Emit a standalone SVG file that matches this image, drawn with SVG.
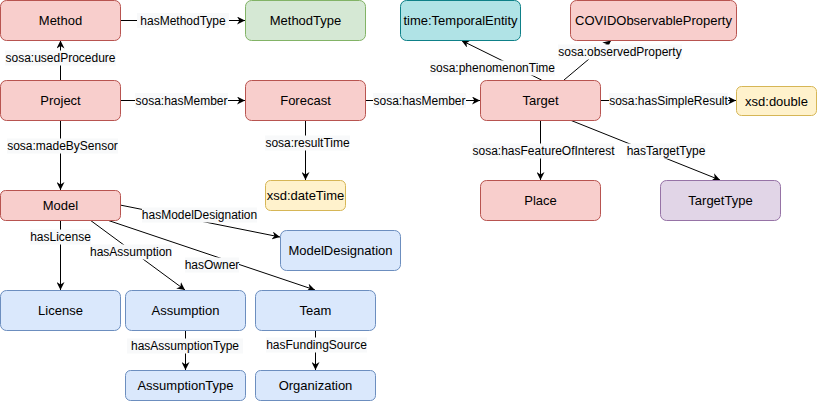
<svg xmlns="http://www.w3.org/2000/svg" width="817" height="401" viewBox="0 0 817 401">
<style>
.n rect{stroke-width:1}
.red rect{fill:#f8cecc;stroke:#b85450}
.green rect{fill:#d5e8d4;stroke:#82b366}
.teal rect{fill:#b0e3e6;stroke:#0e8088}
.yellow rect{fill:#fff2cc;stroke:#d6b656}
.blue rect{fill:#dae8fc;stroke:#6c8ebf}
.purple rect{fill:#e1d5e7;stroke:#9673a6}
.n text{font-family:"Liberation Sans",Arial,sans-serif;font-size:13px;fill:#000;text-anchor:middle}
#edges line{stroke:#000;stroke-width:1;fill:none;marker-end:url(#arr)}
#edges rect{fill:#f8f9fa;stroke:none}
#edges text{font-family:"Liberation Sans",Arial,sans-serif;font-size:12px;fill:#000;text-anchor:middle}
</style>
<defs>
<marker id="arr" viewBox="0 0 10 10" refX="10" refY="5" markerWidth="8" markerHeight="8" markerUnits="userSpaceOnUse" orient="auto">
<path d="M0,0 L10,5 L0,10 L3,5 z" fill="#000"/>
</marker>
</defs>
<rect width="817" height="401" fill="#fff"/>
<g id="edges">
<line x1="120" y1="20.5" x2="245" y2="20.5"/>
<line x1="60.5" y1="80" x2="60.5" y2="40.5"/>
<line x1="120" y1="100.5" x2="245" y2="100.5"/>
<line x1="365" y1="100.5" x2="480" y2="100.5"/>
<line x1="600" y1="100.5" x2="736" y2="100.5"/>
<line x1="60.5" y1="120" x2="60.5" y2="190"/>
<line x1="305.5" y1="120" x2="305.5" y2="180"/>
<line x1="541.5" y1="80" x2="461.5" y2="40.5"/>
<line x1="564" y1="80" x2="611" y2="40.5"/>
<line x1="540.5" y1="120" x2="540.5" y2="180"/>
<line x1="570" y1="120" x2="720" y2="180"/>
<line x1="120" y1="205" x2="280" y2="237"/>
<line x1="60.5" y1="220" x2="60.5" y2="290"/>
<line x1="90" y1="220" x2="185" y2="290"/>
<line x1="107" y1="220" x2="315" y2="290"/>
<line x1="185.5" y1="330" x2="185.5" y2="370"/>
<line x1="315.5" y1="330" x2="315.5" y2="370"/>
<g>
<rect x="137" y="13" width="92" height="15"/><text x="183" y="24.5">hasMethodType</text>
<rect x="5" y="50.5" width="111" height="15"/><text x="60.5" y="62">sosa:usedProcedure</text>
<rect x="135" y="93" width="93" height="15"/><text x="181.5" y="104.5">sosa:hasMember</text>
<rect x="373" y="93" width="93" height="15"/><text x="419.5" y="104.5">sosa:hasMember</text>
<rect x="609" y="93" width="119" height="15"/><text x="668.5" y="104.5">sosa:hasSimpleResult</text>
<rect x="7" y="138.5" width="111" height="15"/><text x="62.5" y="150">sosa:madeBySensor</text>
<rect x="265" y="135.5" width="85" height="15"/><text x="307.5" y="147">sosa:resultTime</text>
<rect x="430" y="60.5" width="125" height="15"/><text x="492.5" y="72">sosa:phenomenonTime</text>
<rect x="558" y="44.5" width="124" height="15"/><text x="620" y="56">sosa:observedProperty</text>
<rect x="472.5" y="143.5" width="142" height="15"/><text x="543.5" y="155">sosa:hasFeatureOfInterest</text>
<rect x="626.5" y="143.5" width="79" height="15"/><text x="666" y="155">hasTargetType</text>
<rect x="142" y="207.5" width="115" height="15"/><text x="199.5" y="219">hasModelDesignation</text>
<rect x="30" y="229.5" width="61" height="15"/><text x="60.5" y="241">hasLicense</text>
<rect x="90" y="244.5" width="82" height="15"/><text x="131" y="256">hasAssumption</text>
<rect x="185" y="257.5" width="54" height="15"/><text x="212" y="269">hasOwner</text>
<rect x="127" y="338.5" width="116" height="15"/><text x="185" y="350">hasAssumptionType</text>
<rect x="266" y="337.5" width="101" height="15"/><text x="316.5" y="349">hasFundingSource</text>
</g>
</g>
<g id="method" class="n red"><rect x="0.5" y="0.5" width="120" height="40" rx="6"/><text x="60.5" y="25">Method</text></g>
<g id="methodtype" class="n green"><rect x="245.5" y="0.5" width="120" height="40" rx="6"/><text x="305.5" y="25">MethodType</text></g>
<g id="temporalentity" class="n teal"><rect x="400.5" y="0.5" width="120" height="40" rx="6"/><text x="460.5" y="25">time:TemporalEntity</text></g>
<g id="covidobservableproperty" class="n red"><rect x="570.5" y="0.5" width="166" height="40" rx="6"/><text x="653.5" y="25">COVIDObservableProperty</text></g>
<g id="project" class="n red"><rect x="0.5" y="80.5" width="120" height="40" rx="6"/><text x="60.5" y="105">Project</text></g>
<g id="forecast" class="n red"><rect x="245.5" y="80.5" width="120" height="40" rx="6"/><text x="305.5" y="105">Forecast</text></g>
<g id="target" class="n red"><rect x="480.5" y="80.5" width="120" height="40" rx="6"/><text x="540.5" y="105">Target</text></g>
<g id="xsddouble" class="n yellow"><rect x="736.5" y="86.5" width="80" height="29" rx="5"/><text x="776.5" y="105.5">xsd:double</text></g>
<g id="model" class="n red"><rect x="0.5" y="190.5" width="120" height="30" rx="5"/><text x="60.5" y="210">Model</text></g>
<g id="xsddatetime" class="n yellow"><rect x="265.5" y="180.5" width="80" height="30" rx="5"/><text x="305.5" y="200">xsd:dateTime</text></g>
<g id="place" class="n red"><rect x="480.5" y="180.5" width="120" height="40" rx="6"/><text x="540.5" y="205">Place</text></g>
<g id="targettype" class="n purple"><rect x="660.5" y="180.5" width="120" height="40" rx="6"/><text x="720.5" y="205">TargetType</text></g>
<g id="modeldesignation" class="n blue"><rect x="280.5" y="230.5" width="120" height="40" rx="6"/><text x="340.5" y="255">ModelDesignation</text></g>
<g id="license" class="n blue"><rect x="0.5" y="290.5" width="120" height="40" rx="6"/><text x="60.5" y="315">License</text></g>
<g id="assumption" class="n blue"><rect x="125.5" y="290.5" width="120" height="40" rx="6"/><text x="185.5" y="315">Assumption</text></g>
<g id="team" class="n blue"><rect x="255.5" y="290.5" width="120" height="40" rx="6"/><text x="315.5" y="315">Team</text></g>
<g id="assumptiontype" class="n blue"><rect x="125.5" y="370.5" width="120" height="30" rx="5"/><text x="185.5" y="390">AssumptionType</text></g>
<g id="organization" class="n blue"><rect x="255.5" y="370.5" width="120" height="30" rx="5"/><text x="315.5" y="390">Organization</text></g>
</svg>
